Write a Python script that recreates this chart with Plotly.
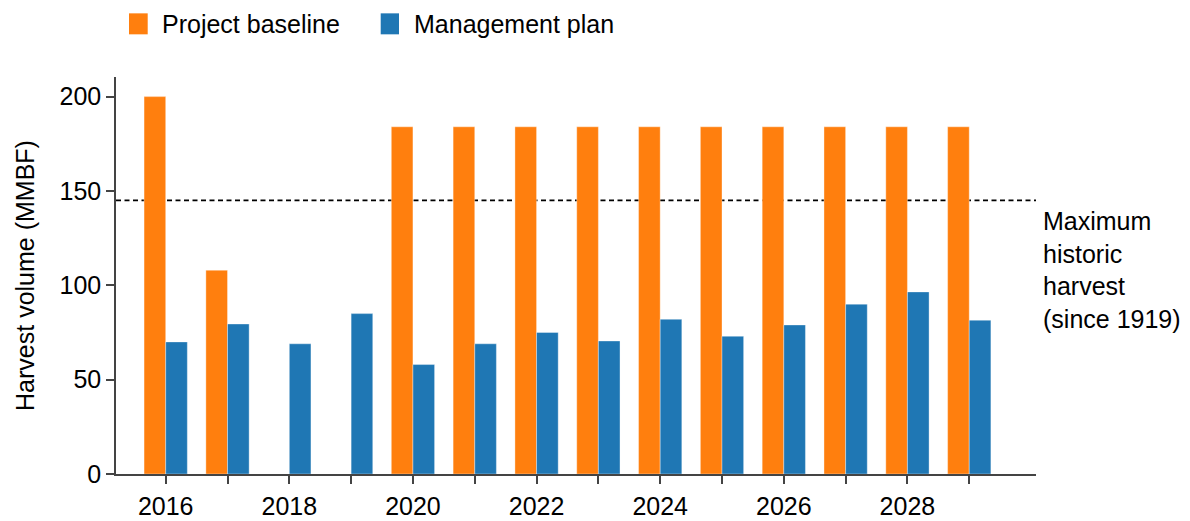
import plotly.graph_objects as go

years = list(range(2016, 2030))
baseline = [200, 108, None, None, 184, 184, 184, 184, 184, 184, 184, 184, 184, 184]
management = [70, 79.5, 69, 85, 58, 69, 75, 70.5, 82, 73, 79, 90, 96.5, 81.5]
max_historic = 145
tick_labels = [str(y) if y % 2 == 0 else "" for y in years]
series_names = ["Project baseline", "Management plan"]
colors = ["#ff7f0e", "#1f77b4"]
note_text = "Maximum<br>historic<br>harvest<br>(since 1919)"
y_title = "Harvest volume (MMBF)"

OFF = 8  # page body margin
W, H = 1190 - OFF, 521 - OFF
L, R, T, B = 116 - OFF, 1036 - OFF, 77 - OFF, 474.3 - OFF
FONT = "Liberation Sans, Arial, Helvetica, sans-serif"
FS = 25


def px_x(p):
    return (p - OFF - L) / (R - L)


def px_y(p):
    return (B - (p - OFF)) / (B - T)


fig = go.Figure()
fig.add_trace(go.Bar(x=years, y=baseline, name=series_names[0],
                     marker=dict(color=colors[0], line=dict(width=0.6, color="rgba(255,255,255,0.6)")),
                     showlegend=False))
fig.add_trace(go.Bar(x=years, y=management, name=series_names[1],
                     marker=dict(color=colors[1], line=dict(width=0.6, color="rgba(255,255,255,0.6)")),
                     showlegend=False))

fig.add_shape(type="line", xref="paper", yref="y", x0=0, x1=1, y0=max_historic, y1=max_historic,
              line=dict(color="black", width=1.8, dash="5px,3.5px"), layer="below")

# legend (manual)
leg = [(129, 147.7, 160), (380.7, 399, 411.7)]
for (x0, x1, tx), name, c in zip(leg, series_names, colors):
    fig.add_shape(type="rect", xref="paper", yref="paper",
                  x0=px_x(x0), x1=px_x(x1), y0=px_y(34.3), y1=px_y(13.3),
                  fillcolor=c, line=dict(width=0))
    fig.add_annotation(xref="paper", yref="paper", x=px_x(tx), y=px_y(24),
                       xanchor="left", yanchor="middle", text=name, showarrow=False,
                       font=dict(size=FS, color="black", family=FONT))

fig.add_annotation(xref="paper", yref="paper", x=px_x(1041), y=px_y(270),
                   xanchor="left", yanchor="middle", align="left", text=note_text,
                   showarrow=False, font=dict(size=FS, color="black", family=FONT))

fig.update_layout(
    width=W, height=H,
    margin=dict(l=L, r=W - R, t=T, b=H - B, pad=0, autoexpand=False),
    barmode="group", bargap=0.3, bargroupgap=0,
    plot_bgcolor="white", paper_bgcolor="white",
    font=dict(family=FONT, size=FS, color="black"),
    xaxis=dict(range=[2015.196, 2030.08], tickmode="array", tickvals=years, ticktext=tick_labels,
               showgrid=False, zeroline=False, showline=True, linecolor="#444", linewidth=1.5,
               ticks="outside", ticklen=8, tickwidth=1.5, tickcolor="#444", automargin=False,
               ticklabelstandoff=1, tickfont=dict(size=FS)),
    yaxis=dict(range=[0, 210.4], tickvals=[0, 50, 100, 150, 200],
               showgrid=False, zeroline=False, showline=True, linecolor="#444", linewidth=1.5,
               ticks="outside", ticklen=8, tickwidth=1.5, tickcolor="#444", automargin=False,
               tickfont=dict(size=FS), title=dict(text=y_title, font=dict(size=FS), standoff=18)),
)

fig.write_html("out.html")
